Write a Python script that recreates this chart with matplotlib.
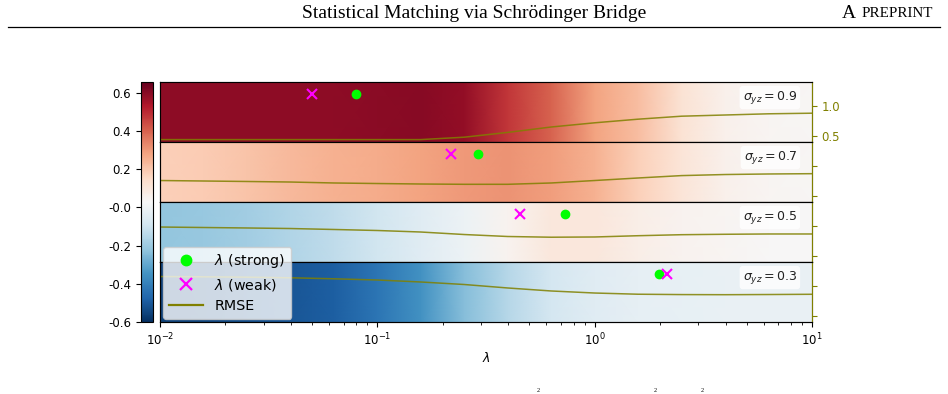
import numpy as np
import matplotlib.pyplot as plt
from matplotlib.colors import Normalize
from matplotlib.lines import Line2D
import matplotlib.cm as cm

# data
# -------------------------------------------------------------
sigma_labels = ['0.9', '0.7', '0.5', '0.3']

lam = [0.01, 0.0158, 0.0251, 0.0398, 0.0631, 0.1, 0.158, 0.251,
       0.398, 0.631, 1.0, 1.58, 2.51, 3.98, 6.31, 10.0]

# colour value per band (top to bottom)
corr_09 = [0.59, 0.59, 0.59, 0.59, 0.59, 0.595, 0.60, 0.58,
           0.48, 0.40, 0.28, 0.22, 0.12, 0.06, 0.04, 0.035]
corr_07 = [0.18, 0.19, 0.21, 0.23, 0.25, 0.26, 0.28, 0.30,
           0.31, 0.29, 0.25, 0.18, 0.11, 0.06, 0.04, 0.035]
corr_05 = [-0.22, -0.21, -0.19, -0.16, -0.13, -0.09, -0.05, -0.01,
           0.05, 0.10, 0.10, 0.07, 0.05, 0.04, 0.03, 0.03]
corr_03 = [-0.56, -0.55, -0.53, -0.51, -0.49, -0.43, -0.35, -0.24,
           -0.15, -0.08, -0.05, -0.03, -0.025, -0.02, -0.02, -0.02]

# RMSE per band
rmse_09 = [0.44, 0.44, 0.44, 0.44, 0.44, 0.44, 0.44, 0.48,
           0.56, 0.65, 0.72, 0.78, 0.83, 0.85, 0.87, 0.88]
rmse_07 = [0.758, 0.75, 0.742, 0.733, 0.717, 0.708, 0.70, 0.695,
           0.695, 0.717, 0.758, 0.80, 0.84, 0.858, 0.867, 0.872]
rmse_05 = [0.983, 0.975, 0.967, 0.958, 0.942, 0.925, 0.90, 0.858,
           0.825, 0.813, 0.817, 0.838, 0.855, 0.862, 0.867, 0.867]
rmse_03 = [1.158, 1.153, 1.147, 1.137, 1.12, 1.10, 1.067, 1.025,
           0.967, 0.917, 0.883, 0.863, 0.857, 0.855, 0.858, 0.862]

lam_strong = [0.080, 0.29, 0.73, 1.98]
lam_weak = [0.050, 0.218, 0.454, 2.15]

cbar_ticks = [0.6, 0.4, 0.2, 0.0, -0.2, -0.4, -0.6]
cbar_labels = ['0.6', '0.4', '0.2', '-0.0', '-0.2', '-0.4', '-0.6']
# -------------------------------------------------------------

corr_all = [corr_09, corr_07, corr_05, corr_03]
rmse_all = [rmse_09, rmse_07, rmse_05, rmse_03]

W, H = 948, 394
fig = plt.figure(figsize=(W / 100, H / 100), dpi=100)

norm = Normalize(vmin=-0.6, vmax=0.657)
cmap = plt.get_cmap('RdBu_r')

x0, x1 = 160, 812
top = 82
band_h = 60

axes = []
for k in range(4):
    y_top = top + band_h * k
    ax = fig.add_axes([x0 / W, 1 - (y_top + band_h) / H, (x1 - x0) / W, band_h / H])
    axes.append(ax)

    c = np.array(corr_all[k])
    ax.pcolormesh(lam, [0, 1], np.vstack([c, c]), shading='gouraud',
                  cmap=cmap, norm=norm)
    ax.plot(lam_strong[k], 0.8, 'o', color='lime', ms=6)
    ax.plot(lam_weak[k], 0.8, 'x', color='magenta', ms=7, mew=1.5)

    ax.set_xscale('log')
    ax.set_xlim(1e-2, 1e1)
    ax.set_ylim(0, 1)
    ax.set_yticks([])
    for s in ax.spines.values():
        s.set_color('#333333')

    ax.text(0.977, 0.74, r'$\sigma_{yz} = %s$' % sigma_labels[k],
            transform=ax.transAxes, ha='right', va='center', fontsize=9,
            color='#222222',
            bbox=dict(boxstyle='round,pad=0.25', fc='white', ec='none', alpha=0.8))

    tw = ax.twinx()
    tw.plot(lam, rmse_all[k], color='olive', lw=1.1, alpha=0.85)
    tw.set_ylim(0.4, 1.4)
    tw.set_yticks([0.5, 1.0])
    tw.tick_params(axis='y', colors='olive', labelsize=8.5)
    tw.spines['right'].set_color('olive')
    if k > 0:
        tw.set_yticklabels([])

    if k < 3:
        ax.tick_params(axis='x', which='both', bottom=False, labelbottom=False)
    else:
        ax.tick_params(axis='x', labelsize=8.5)
        ax.set_xlabel(r'$\lambda$', fontsize=9, labelpad=2)

# colour bar
cax = fig.add_axes([141 / W, 1 - 322 / H, 12 / W, 240 / H])
sm = cm.ScalarMappable(norm=norm, cmap=cmap)
cb = fig.colorbar(sm, cax=cax, ticks=cbar_ticks)
cb.ax.yaxis.set_ticks_position('left')
cb.ax.set_yticklabels(cbar_labels)
cb.ax.tick_params(labelsize=8.5)

# legend
handles = [
    Line2D([], [], marker='o', color='lime', ls='none', ms=7.5),
    Line2D([], [], marker='x', color='magenta', ls='none', ms=8.5, mew=1.6),
    Line2D([], [], color='olive', lw=1.6),
]
fig.legend(handles, [r'$\lambda$ (strong)', r'$\lambda$ (weak)', 'RMSE'],
           loc='lower left', bbox_to_anchor=(163 / W, (H - 319) / H),
           borderaxespad=0, fontsize=10.3, handlelength=2.4,
           labelspacing=0.45)

# page header
fig.text(0.5, 1 - 13 / H, 'Statistical Matching via Schrödinger Bridge',
         ha='center', va='center', fontsize=14, family='Liberation Serif')
fig.text(856 / W, 1 - 13 / H, 'A', ha='right', va='center', fontsize=14,
         family='Liberation Serif')
fig.text(862 / W, 1 - 13.8 / H, 'PREPRINT', ha='left', va='center', fontsize=10.8,
         family='Liberation Serif')
fig.add_artist(Line2D([8 / W, 940 / W], [1 - 27 / H, 1 - 27 / H],
                      color='black', lw=0.9))

# caption fragments at the bottom edge
for xp in [538, 655, 702]:
    fig.text(xp / W, 1.5 / H, '2', ha='center', va='bottom', fontsize=4.5,
             family='Liberation Serif')

plt.savefig('out.png', dpi=100)
